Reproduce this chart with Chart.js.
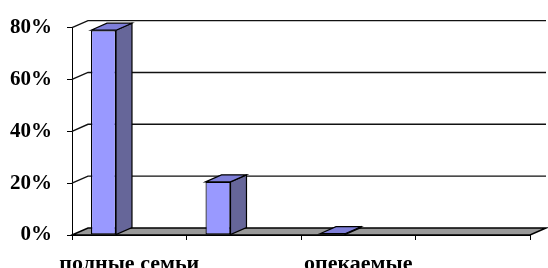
<!DOCTYPE html>
<html>
<head>
<meta charset="utf-8">
<script src="https://cdn.jsdelivr.net/npm/chart.js@4"></script>
<style>
  html, body { margin: 0; padding: 0; background: #fff; }
  #wrap { width: 548px; height: 268px; }
</style>
</head>
<body>
<div id="wrap"><canvas id="chart" width="548" height="268"></canvas></div>
<script>
// data
const categories = ['полные семьи', 'неполные семьи', 'опекаемые', 'другие'];
const shares = [79, 20.5, 0.5, 0];
const yTicks = [0, 20, 40, 60, 80];

// 3D look
const depthX = 16;
const depthY = 7;
const frontColor = '#9999ff';
const sideColor = '#666699';
const topColor = '#7f7fd9';
const floorColor = '#999999';

const serif = "'Liberation Serif', 'Times New Roman', serif";

const box3d = {
    id: 'box3d',
    beforeDatasetsDraw(chart) {
        const ctx = chart.ctx;
        const area = chart.chartArea;
        const y = chart.scales.y;
        ctx.save();
        // back wall gridlines + left wall diagonals
        ctx.strokeStyle = '#111';
        ctx.lineWidth = 1.4;
        yTicks.forEach(v => {
            if (v === 0) return;
            const py = y.getPixelForValue(v);
            ctx.beginPath();
            ctx.moveTo(area.left, py);
            ctx.lineTo(area.left + depthX, py - depthY);
            ctx.lineTo(area.right + depthX, py - depthY);
            ctx.stroke();
        });
        // floor
        const py0 = y.getPixelForValue(0);
        ctx.beginPath();
        ctx.moveTo(area.left, py0);
        ctx.lineTo(area.left + depthX, py0 - depthY);
        ctx.lineTo(area.right + depthX, py0 - depthY);
        ctx.lineTo(area.right, py0);
        ctx.closePath();
        ctx.fillStyle = floorColor;
        ctx.fill();
        ctx.strokeStyle = '#000';
        ctx.lineWidth = 1.4;
        ctx.stroke();
        ctx.restore();
    },
    afterDatasetsDraw(chart) {
        const ctx = chart.ctx;
        const meta = chart.getDatasetMeta(0);
        ctx.save();
        ctx.strokeStyle = '#000';
        ctx.lineWidth = 1.2;
        meta.data.forEach((bar, i) => {
            if (!shares[i]) return;
            const p = bar.getProps(['x', 'y', 'base', 'width'], true);
            const l = p.x - p.width / 2;
            const r = p.x + p.width / 2;
            // side
            ctx.beginPath();
            ctx.moveTo(r, p.y);
            ctx.lineTo(r + depthX, p.y - depthY);
            ctx.lineTo(r + depthX, p.base - depthY);
            ctx.lineTo(r, p.base);
            ctx.closePath();
            ctx.fillStyle = sideColor;
            ctx.fill();
            ctx.stroke();
            // top
            ctx.beginPath();
            ctx.moveTo(l, p.y);
            ctx.lineTo(l + depthX, p.y - depthY);
            ctx.lineTo(r + depthX, p.y - depthY);
            ctx.lineTo(r, p.y);
            ctx.closePath();
            ctx.fillStyle = topColor;
            ctx.fill();
            ctx.stroke();
        });
        ctx.restore();
    }
};

new Chart(document.getElementById('chart').getContext('2d'), {
    type: 'bar',
    data: {
        labels: categories,
        datasets: [{
            data: shares,
            backgroundColor: frontColor,
            borderColor: '#000',
            borderWidth: 1.2,
            borderSkipped: false,
            barPercentage: 0.485,
            categoryPercentage: 0.9
        }, {
            // empty second series, keeps the bars left of the category centre
            data: categories.map(() => null),
            barPercentage: 0.485,
            categoryPercentage: 0.9
        }]
    },
    options: {
        responsive: false,
        animation: false,
        events: [],
        layout: { padding: { top: 24, right: 18, left: 0, bottom: 0 } },
        plugins: {
            legend: { display: false },
            tooltip: { enabled: false }
        },
        scales: {
            x: {
                offset: true,
                grid: { offset: true, drawOnChartArea: false, tickLength: 5, color: '#000', lineWidth: 1 },
                border: { color: '#000', width: 1 },
                ticks: {
                    autoSkip: false,
                    maxRotation: 0,
                    padding: 11,
                    color: '#000',
                    font: { family: serif, size: 22, weight: 'bold' },
                    callback: (v, i) => i % 2 === 0 ? categories[i] : ''
                },
                afterFit: s => { s.height = 33; }
            },
            y: {
                min: 0,
                max: 80,
                grid: { drawOnChartArea: false, tickLength: 5, color: '#000', lineWidth: 1 },
                border: { color: '#000', width: 1 },
                ticks: {
                    stepSize: 20,
                    padding: 15,
                    color: '#000',
                    font: { family: serif, size: 21, weight: 'bold' },
                    callback: v => v + '%'
                },
                afterFit: s => { s.width = 72; }
            }
        }
    },
    plugins: [box3d]
});
</script>
</body>
</html>
